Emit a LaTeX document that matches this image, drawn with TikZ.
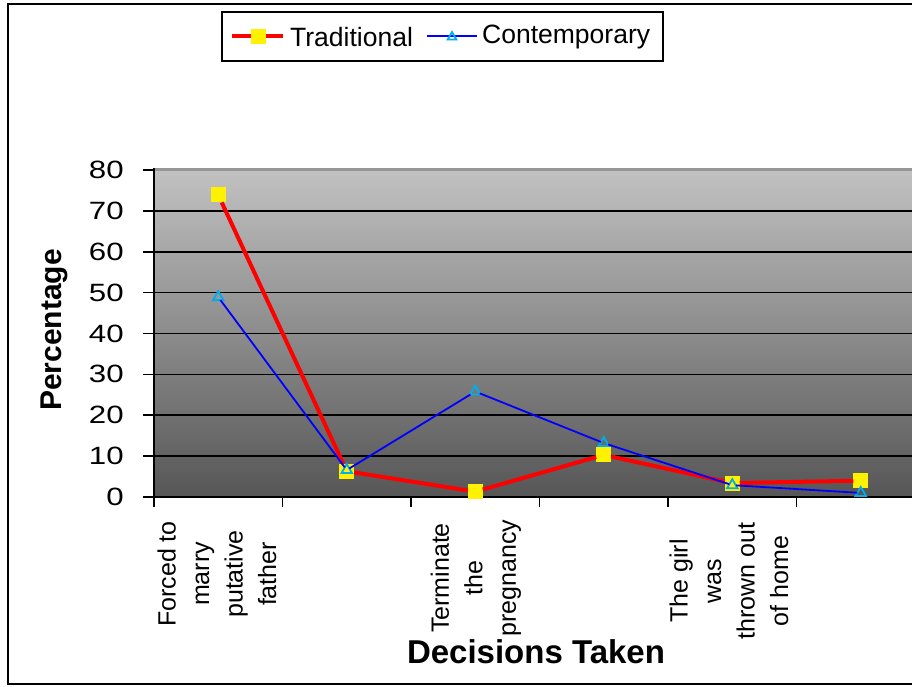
\documentclass[tikz,border=0pt]{standalone}
\usepackage{fontspec}
\setmainfont{Liberation Sans}
\usepackage{tikz}
\usetikzlibrary{shapes,calc,positioning}
\definecolor{plotTop}{RGB}{194,194,194}
\definecolor{plotBottom}{RGB}{86,86,86}
\definecolor{plotRim}{RGB}{150,150,150}
\tikzstyle{tradline} =[red, line width=4pt]
\tikzstyle{contline} =[blue, line width=1.8pt]
\tikzstyle{tradmark} =[rectangle, fill=yellow, minimum size=15pt,
                       inner sep=0pt, outer sep=0pt]
\tikzstyle{contmark} =[regular polygon, regular polygon sides=3,
                       draw=cyan, line width=1.8pt, minimum size=12pt,
                       inner sep=0pt, outer sep=0pt]
\tikzstyle{grid}     =[black, line width=1.6pt]
\tikzstyle{ticklab}  =[font=\fontsize{25}{30}\selectfont, inner sep=0pt,
                       xscale=1.25]
\tikzstyle{leglab}   =[font=\fontsize{26.5}{30}\selectfont, inner sep=0pt]
\tikzstyle{catlab}   =[font=\fontsize{25}{33.5}\selectfont, rotate=90,
                       align=center, inner sep=0pt]

\begin{document}
\begin{tikzpicture}[x=1pt,y=-1pt]
\useasboundingbox (0,0) rectangle (912,686);
\clip (0,0) rectangle (912,686);
%%%%%%%%%%%%%%%%%%%%%%%%%%%%%%%%%%%%%%%%%%%%%%%%
%%%%%%%%%%         Frame + Plot       %%%%%%%%%%
%%%%%%%%%%%%%%%%%%%%%%%%%%%%%%%%%%%%%%%%%%%%%%%%
\draw [line width=2pt] (920,4) -- (8,4) -- (8,684) -- (920,684);

\shade [top color=plotTop, bottom color=plotBottom] (154,168) rectangle (926,497);
\draw [plotRim, line width=3pt] (154,169.5) -- (926,169.5);

\foreach \v in {1,...,7}
	\draw [grid] (154,{497-40.875*\v}) -- (926,{497-40.875*\v});

% axes
\draw [grid] (154,168) -- (154,497);
\draw [grid] (154,497) -- (926,497);
\foreach \v in {0,...,8}
	\draw [grid] (143,{497-40.875*\v}) -- (154,{497-40.875*\v});
\foreach \i in {0,...,6}
	\draw [grid] ({154+128.5*\i},497) -- ({154+128.5*\i},507);

% y tick labels
\foreach \v in {0,...,8}
	\node (y\v) [ticklab, anchor=east] at (124,{497-40.875*\v}) {\the\numexpr\v*10\relax};

%%%%%%%%%%%%%%%%%%%%%%%%%%%%%%%%%%%%%%%%%%%%%%%%
%%%%%%%%%%          Data lines        %%%%%%%%%%
%%%%%%%%%%%%%%%%%%%%%%%%%%%%%%%%%%%%%%%%%%%%%%%%
\foreach \v [count=\i] in {73.9,6.3,1.3,10.3,3.4,4.0}
	\node (t\i) [tradmark] at ({89.75+128.5*\i},{497-4.0875*\v}){};
\foreach \i in {1,...,5}
	\draw [tradline] let \n1={int(\i+1)} in (t\i) to (t\n1);

\foreach \v [count=\i] in {48.9,6.6,25.8,13.2,2.9,1.0}
	\node (c\i) [contmark] at ({89.75+128.5*\i},{497-4.0875*\v}){};
\foreach \i in {1,...,5}
	\draw [contline] let \n1={int(\i+1)} in (c\i) to (c\n1);

%%%%%%%%%%%%%%%%%%%%%%%%%%%%%%%%%%%%%%%%%%%%%%%%
%%%%%%%%%%           Labels           %%%%%%%%%%
%%%%%%%%%%%%%%%%%%%%%%%%%%%%%%%%%%%%%%%%%%%%%%%%
\node (k1) [catlab] at (217,574) {Forced to\\marry\\putative\\father};
\node (k3) [catlab] at (476,578) {Terminate\\the\\pregnancy};
\node (k5) [catlab] at (729,581) {The girl\\was\\thrown out\\of home};

\node (xl) at (536,652) {\fontsize{33}{36}\selectfont\bfseries Decisions Taken};
\node (yl) [rotate=90] at (54,330) {\fontsize{30}{34}\selectfont\bfseries Percentage};

%%%%%%%%%%%%%%%%%%%%%%%%%%%%%%%%%%%%%%%%%%%%%%%%
%%%%%%%%%%           Legend           %%%%%%%%%%
%%%%%%%%%%%%%%%%%%%%%%%%%%%%%%%%%%%%%%%%%%%%%%%%
\draw [line width=1.8pt, fill=white] (222,12) rectangle (663,61);
\coordinate (la) at (232,36);
\coordinate (lb) at (283,36);
\draw [tradline] (la) -- (lb);
\node (lt) [tradmark] at (258,36){};
\node (ltt) [leglab, anchor=west] at (290,37) {Traditional};
\coordinate (lc) at (427,36);
\coordinate (ld) at (477,36);
\draw [contline] (lc) -- (ld);
\node (lm) [contmark, minimum size=10pt] at (452,37){};
\node (lmt) [leglab, anchor=west] at (482,37) {Contemporary};
\end{tikzpicture}
\end{document}
